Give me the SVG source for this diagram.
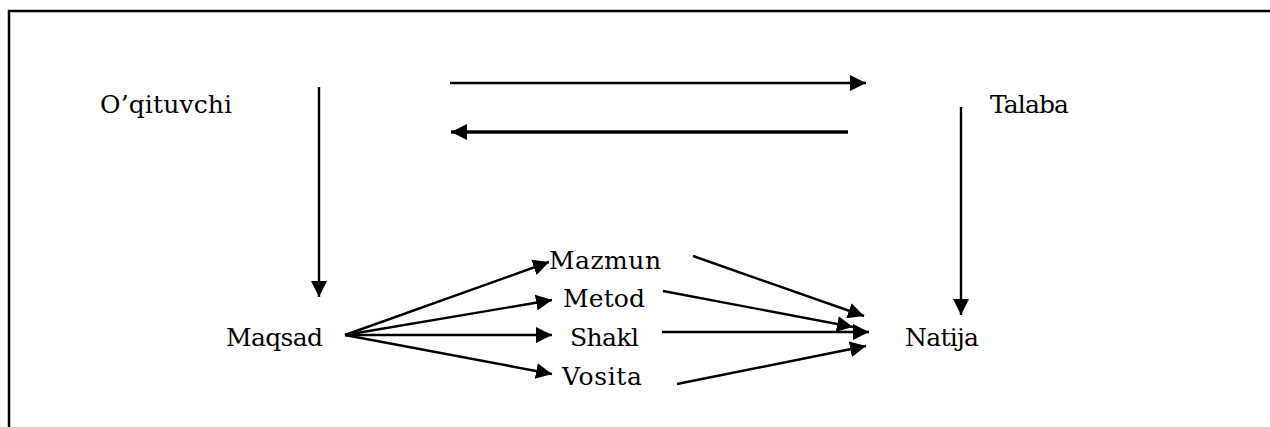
<svg xmlns="http://www.w3.org/2000/svg" width="1270" height="427" viewBox="0 0 1270 427">
<style>
.lbl{font-family:"DejaVu Serif","Liberation Serif",serif;font-size:25px;fill:#000}
.c{stroke:#000;stroke-width:2.4;fill:none;marker-end:url(#ah)}
.thick{stroke-width:3.5}
</style>
<defs>
<marker id="ah" markerUnits="userSpaceOnUse" markerWidth="17" markerHeight="17" refX="16" refY="8" orient="auto">
<path d="M0,0 L16,8 L0,16 Z" fill="#000"/>
</marker>
</defs>
<rect width="1270" height="427" fill="#fff"/>
<path d="M9,428 V11 H1271" stroke="#000" stroke-width="2.5" fill="none"/>
<g id="connectors">
<line class="c" x1="450" y1="83" x2="866" y2="83"/>
<line class="c thick" x1="848" y1="132" x2="451" y2="132"/>
<line class="c" x1="319" y1="87" x2="319" y2="297"/>
<line class="c" x1="961" y1="107" x2="961" y2="315"/>
<line class="c" x1="345" y1="335" x2="549" y2="262"/>
<line class="c" x1="345" y1="335" x2="552" y2="300"/>
<line class="c" x1="345" y1="335" x2="552" y2="335"/>
<line class="c" x1="345" y1="335" x2="552" y2="374"/>
<line class="c" x1="693" y1="256" x2="864" y2="316"/>
<line class="c" x1="663" y1="291" x2="853" y2="327"/>
<line class="c" x1="662" y1="332" x2="869" y2="332"/>
<line class="c" x1="677" y1="384" x2="866" y2="346"/>
</g>
<g id="oqituvchi"><text class="lbl" x="100" y="113" textLength="132">O’qituvchi</text></g>
<g id="talaba"><text class="lbl" x="990" y="113" textLength="79">Talaba</text></g>
<g id="maqsad"><text class="lbl" x="226" y="346" textLength="97">Maqsad</text></g>
<g id="mazmun"><text class="lbl" x="549" y="269" textLength="112">Mazmun</text></g>
<g id="metod"><text class="lbl" x="563" y="307" textLength="82">Metod</text></g>
<g id="shakl"><text class="lbl" x="570" y="346" textLength="69">Shakl</text></g>
<g id="vosita"><text class="lbl" x="562" y="385" textLength="80">Vosita</text></g>
<g id="natija"><text class="lbl" x="905" y="346" textLength="74">Natija</text></g>
</svg>
